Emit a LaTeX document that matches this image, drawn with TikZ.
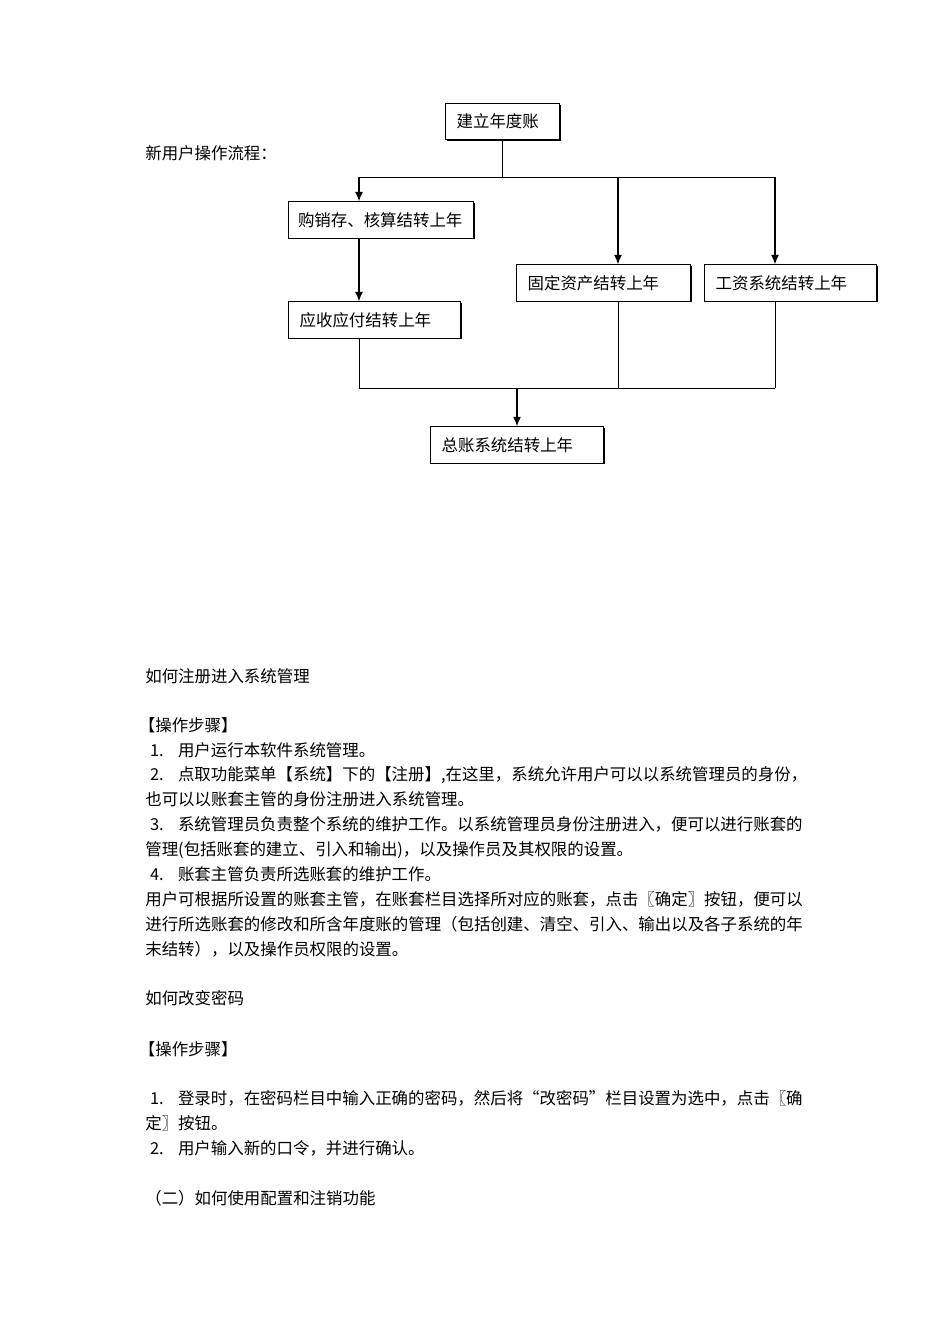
\documentclass[tikz,border=0pt]{standalone}
\usepackage{fontspec}
\newfontfamily\cjk{Noto Sans CJK SC}
\XeTeXlinebreaklocale "zh"
\XeTeXlinebreakskip=0pt plus 2pt
\usetikzlibrary{
    arrows.meta,
    shadows
}
\newcommand\zh{\cjk\fontsize{10.3}{15.58}\selectfont}
\newcommand\itemno[1]{\hspace*{3pt}\makebox[17.5pt][l]{#1.}}
\newcommand\fullline[1]{\makebox[414pt][s]{#1}}
\tikzset
{
  box/.style={draw,fill=white,line width=0.6pt,inner xsep=7pt,inner ysep=0pt,minimum height=22.6pt,
    text width=#1,align=left,anchor=west,font=\zh,
    drop shadow={shadow xshift=0.7pt,shadow yshift=-0.7pt,fill=black,opacity=1}},
  link/.style={draw,line width=0.6pt},
  flow/.style={draw,line width=1pt,-{Latex[length=6pt,width=5pt]}},
  para/.style={anchor=base west,inner sep=0pt,align=left,font=\zh}
}

\begin{document}
\begin{tikzpicture}[x=0.6266pt,y=-0.6266pt]
        \useasboundingbox (0,0) rectangle (950,1344);

        % Flow title
        \node[para] (title) at (145,159) {新用户操作流程：};

        % Boxes
        \node[box=57.4pt] (start) at (445,121.5) {建立年度账};
        \node[box=104pt,inner xsep=6pt] (gxc) at (288,220) {购销存、核算结转上年};
        \node[box=93.8pt] (ysyf) at (288,320) {应收应付结转上年};
        \node[box=95pt] (gdzc) at (516,283) {固定资产结转上年};
        \node[box=93.8pt] (gzxt) at (704,283) {工资系统结转上年};
        \node[box=94.4pt] (zz) at (430,445) {总账系统结转上年};

        % Junctions
        \coordinate (jL) at (359,177);
        \coordinate (jM) at (618,177);
        \coordinate (jR) at (775,177);
        \coordinate (kL) at (359,388);
        \coordinate (kM) at (618,388);
        \coordinate (kR) at (775,388);

        % Split
        \draw[link] (start.south) -- (start.south |- jL);
        \draw[link] (jL) -- (jR);
        \draw[flow] (jL) -- (jL |- gxc.north);
        \draw[flow] (jM) -- (jM |- gdzc.north);
        \draw[flow] (jR) -- (jR |- gzxt.north);
        \draw[flow] (jL |- gxc.south) -- (jL |- ysyf.north);

        % Merge
        \draw[link] (jL |- ysyf.south) -- (kL) -- (kR);
        \draw[link] (jM |- gdzc.south) -- (kM);
        \draw[link] (jR |- gzxt.south) -- (kR);
        \draw[flow] (zz.north |- kL) -- (zz.north);

        % Register section (blocks sit on the baseline of their last line)
        \node[para] (regtitle) at (145,682) {如何注册进入系统管理};
        \node[para] (regsteps) at (145,955) {%
            \hspace*{-4pt}【操作步骤】\\
            \itemno{1}用户运行本软件系统管理。\\
            \fullline{\itemno{2}点取功能菜单【系统】下的【注册】,在这里，系统允许用户可以以系统管理员的身份，}\\
            也可以以账套主管的身份注册进入系统管理。\\
            \fullline{\itemno{3}系统管理员负责整个系统的维护工作。以系统管理员身份注册进入，便可以进行账套的}\\
            管理(包括账套的建立、引入和输出)，以及操作员及其权限的设置。\\
            \itemno{4}账套主管负责所选账套的维护工作。\\
            \fullline{用户可根据所设置的账套主管，在账套栏目选择所对应的账套，点击〖确定〗按钮，便可以}\\
            \fullline{进行所选账套的修改和所含年度账的管理（包括创建、清空、引入、输出以及各子系统的年}\\
            末结转），以及操作员权限的设置。};

        % Password section
        \node[para] (pwtitle) at (145,1004) {如何改变密码};
        \node[para] (pwhead) at (145,1055) {\hspace*{-4pt}【操作步骤】};
        \node[para] (pwsteps) at (145,1154) {%
            \fullline{\itemno{1}登录时，在密码栏目中输入正确的密码，然后将“改密码”栏目设置为选中，点击〖确}\\
            定〗按钮。\\
            \itemno{2}用户输入新的口令，并进行确认。};

        % Next section
        \node[para] (cfgtitle) at (145,1204) {（二）如何使用配置和注销功能};
    \end{tikzpicture}
\end{document}
